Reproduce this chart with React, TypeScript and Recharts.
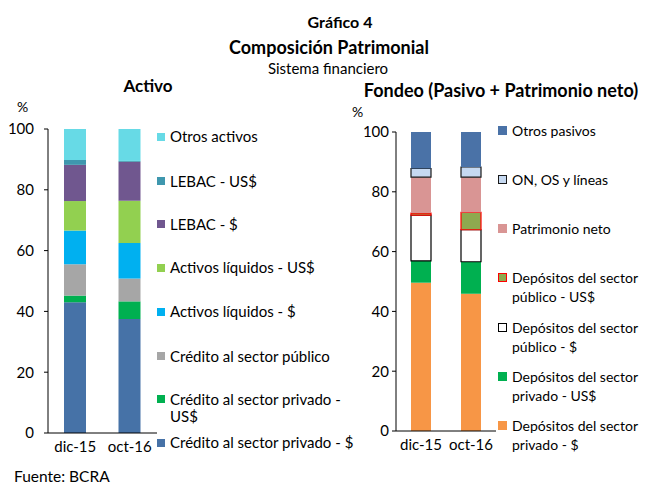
import React from 'react';
import { BarChart, Bar, XAxis, YAxis } from 'recharts';

const FONT = 'Lato, "Open Sans", sans-serif';

const categories = ['dic-15', 'oct-16'];
const yTicks = [0, 20, 40, 60, 80, 100];

// Activo (% of total)
const creditoPrivPesos = [43.0, 37.5];
const creditoPrivUSD = [2.2, 5.8];
const creditoPublico = [10.3, 7.5];
const activosLiqPesos = [11.1, 11.7];
const activosLiqUSD = [9.7, 13.9];
const lebacPesos = [11.9, 12.8];
const lebacUSD = [1.6, 0.3];
const otrosActivos = [10.2, 10.5];

// Fondeo (% of total)
const depPrivPesos = [49.6, 45.9];
const depPrivUSD = [7.3, 10.7];
const depPubPesos = [15.3, 10.7];
const depPubUSD = [0.7, 5.8];
const patrimonioNeto = [12.0, 11.8];
const onOsLineas = [2.9, 3.4];
const otrosPasivos = [12.2, 11.7];

type S = { key: string; name: string; lines: string[]; values: number[]; fill: string; stroke?: string };

const activoSeries: S[] = [
  { key: 'cpp', name: 'Crédito al sector privado - $', lines: ['Crédito al sector privado - $'], values: creditoPrivPesos, fill: '#4672A7' },
  { key: 'cpu', name: 'Crédito al sector privado - US$', lines: ['Crédito al sector privado -', 'US$'], values: creditoPrivUSD, fill: '#00B050' },
  { key: 'csp', name: 'Crédito al sector público', lines: ['Crédito al sector público'], values: creditoPublico, fill: '#A6A6A6' },
  { key: 'alp', name: 'Activos líquidos - $', lines: ['Activos líquidos - $'], values: activosLiqPesos, fill: '#00B0F0' },
  { key: 'alu', name: 'Activos líquidos - US$', lines: ['Activos líquidos - US$'], values: activosLiqUSD, fill: '#92D050' },
  { key: 'lp', name: 'LEBAC - $', lines: ['LEBAC - $'], values: lebacPesos, fill: '#70578F' },
  { key: 'lu', name: 'LEBAC - US$', lines: ['LEBAC - US$'], values: lebacUSD, fill: '#3F97AE' },
  { key: 'oa', name: 'Otros activos', lines: ['Otros activos'], values: otrosActivos, fill: '#67DAE6' },
];

const fondeoSeries: S[] = [
  { key: 'dpp', name: 'Depósitos del sector privado - $', lines: ['Depósitos del sector', 'privado - $'], values: depPrivPesos, fill: '#F79646' },
  { key: 'dpu', name: 'Depósitos del sector privado - US$', lines: ['Depósitos del sector', 'privado - US$'], values: depPrivUSD, fill: '#00B050' },
  { key: 'dgp', name: 'Depósitos del sector público - $', lines: ['Depósitos del sector', 'público - $'], values: depPubPesos, fill: '#FFFFFF', stroke: '#000000' },
  { key: 'dgu', name: 'Depósitos del sector público - US$', lines: ['Depósitos del sector', 'público - US$'], values: depPubUSD, fill: '#8EA94F', stroke: '#FF0000' },
  { key: 'pn', name: 'Patrimonio neto', lines: ['Patrimonio neto'], values: patrimonioNeto, fill: '#D99594' },
  { key: 'on', name: 'ON, OS y líneas', lines: ['ON, OS y líneas'], values: onOsLineas, fill: '#C6D9F1', stroke: '#1A1A1A' },
  { key: 'op', name: 'Otros pasivos', lines: ['Otros pasivos'], values: otrosPasivos, fill: '#4A72A7' },
];

const buildRows = (series: S[]) =>
  categories.map((c, i) => {
    const row: Record<string, any> = { cat: c };
    series.forEach((s) => (row[s.key] = s.values[i]));
    return row;
  });

const activoData = buildRows(activoSeries);
const fondeoData = buildRows(fondeoSeries);

// legend layout (top-to-bottom)
const leftLegendY = [136.7, 181, 224.3, 267.7, 311.7, 356, 399.3, 442.7];
const rightLegendY = [130, 179, 228.3, 277.7, 327.3, 376, 425];

const Legend2 = ({ series, ys, x, lh, sq, fs }: { series: S[]; ys: number[]; x: number; lh: number; sq: number; fs: number }) => {
  const ordered = [...series].reverse();
  return (
    <>
      {ordered.map((s, i) => (
        <div key={s.key} style={{ position: 'absolute', left: x, top: ys[i] - lh / 2, fontSize: fs, lineHeight: `${lh}px`, whiteSpace: 'nowrap', color: '#000' }}>
          <div
            style={{
              position: 'absolute',
              left: 0,
              top: lh / 2 - sq / 2,
              width: s.stroke ? sq - 2 : sq,
              height: s.stroke ? sq - 2 : sq,
              background: s.fill,
              border: s.stroke ? `1px solid ${s.stroke}` : 'none',
            }}
          />
          <div style={{ marginLeft: sq + 5 }}>
            {s.lines.map((l, j) => (
              <div key={j}>{l}</div>
            ))}
          </div>
        </div>
      ))}
    </>
  );
};

const txt = (style: React.CSSProperties): React.CSSProperties => ({ position: 'absolute', whiteSpace: 'nowrap', color: '#000', ...style });

export default function App() {
  return (
    <div style={{ position: 'absolute', left: 0, top: 0, width: 647, height: 484, background: '#fff', fontFamily: FONT, overflow: 'hidden' }}>
      <div style={txt({ left: 0, width: 680, top: 12, lineHeight: '20px', textAlign: 'center', fontWeight: 700, fontSize: 16 })}>Gráfico 4</div>
      <div style={txt({ left: 0, width: 658, top: 35.7, lineHeight: '22px', textAlign: 'center', fontWeight: 700, fontSize: 18 })}>Composición Patrimonial</div>
      <div style={txt({ left: 0, width: 656, top: 59, lineHeight: '18px', textAlign: 'center', fontSize: 15 })}>Sistema financiero</div>
      <div style={txt({ left: 100, width: 96, top: 76, lineHeight: '20px', textAlign: 'center', fontWeight: 700, fontSize: 17 })}>Activo</div>
      <div style={txt({ left: 340, width: 322, top: 79, lineHeight: '22px', textAlign: 'center', fontWeight: 700, fontSize: 18 })}>Fondeo (Pasivo + Patrimonio neto)</div>
      <div style={txt({ left: 17, top: 98, fontSize: 14 })}>%</div>
      <div style={txt({ left: 352, top: 103, fontSize: 14 })}>%</div>
      <div style={txt({ left: 14, top: 469, lineHeight: '14px', fontSize: 15.5 })}>Fuente: BCRA</div>

      <div style={{ position: 'absolute', left: 0, top: 0 }}>
        <BarChart width={160} height={484} data={activoData} margin={{ top: 129, right: 3, bottom: 21, left: 0 }} barSize={22}>
          <XAxis dataKey="cat" tickLine={false} axisLine={{ stroke: '#000' }} tick={{ fill: '#000', fontSize: 15, fontFamily: FONT }} height={30} tickMargin={2} />
          <YAxis
            domain={[0, 100]}
            ticks={yTicks}
            width={48}
            tickSize={4}
            tickMargin={10}
            axisLine={{ stroke: '#000' }}
            tickLine={{ stroke: '#000' }}
            tick={{ fill: '#000', fontSize: 15, fontFamily: FONT }}
            interval={0}
          />
          {activoSeries.map((s) => (
            <Bar key={s.key} dataKey={s.key} name={s.name} stackId="a" fill={s.fill} isAnimationActive={false} />
          ))}
        </BarChart>
      </div>

      <div style={{ position: 'absolute', left: 340, top: 0 }}>
        <BarChart width={160} height={484} data={fondeoData} margin={{ top: 132, right: 4, bottom: 23, left: 0 }} barSize={20}>
          <XAxis dataKey="cat" tickLine={false} axisLine={{ stroke: '#000' }} tick={{ fill: '#000', fontSize: 15, fontFamily: FONT }} height={30} tickMargin={2} />
          <YAxis
            domain={[0, 100]}
            ticks={yTicks}
            width={56}
            tickSize={4}
            tickMargin={3}
            axisLine={{ stroke: '#000' }}
            tickLine={{ stroke: '#000' }}
            tick={{ fill: '#000', fontSize: 15, fontFamily: FONT }}
            interval={0}
          />
          {fondeoSeries.map((s) => (
            <Bar
              key={s.key}
              dataKey={s.key}
              name={s.name}
              stackId="f"
              fill={s.fill}
              stroke={s.stroke || 'none'}
              strokeWidth={s.stroke ? 1.2 : 0}
              isAnimationActive={false}
            />
          ))}
        </BarChart>
      </div>

      <Legend2 series={activoSeries} ys={leftLegendY} x={157} lh={16.7} sq={8} fs={15} />
      <Legend2 series={fondeoSeries} ys={rightLegendY} x={498} lh={19} sq={9} fs={14} />
    </div>
  );
}
